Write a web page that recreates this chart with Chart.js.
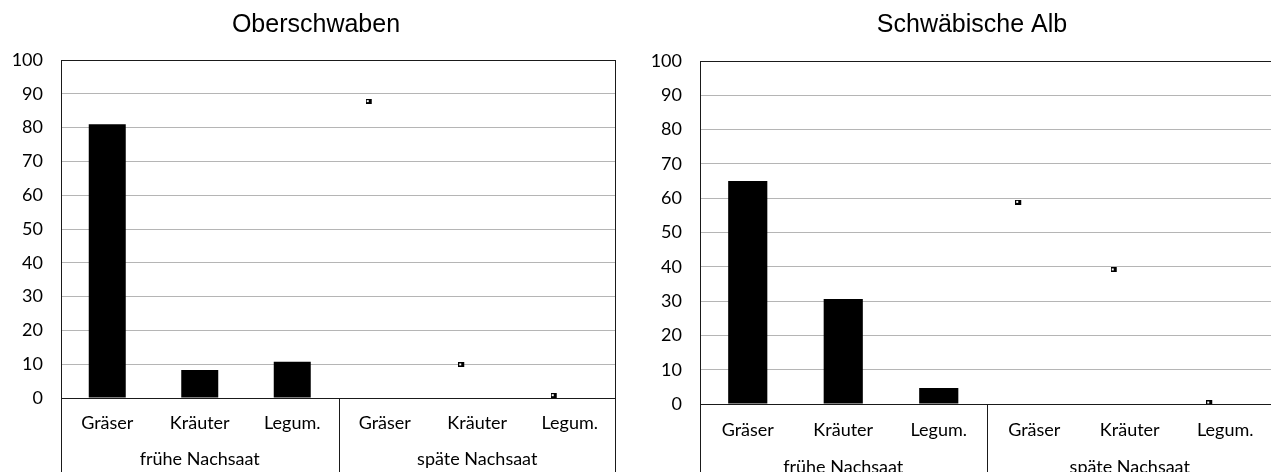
<!DOCTYPE html>
<html>
<head>
<meta charset="utf-8">
<script src="https://cdn.jsdelivr.net/npm/chart.js@4"></script>
<style>
  html, body { margin: 0; padding: 0; background: #fff; overflow: hidden; }
  #wrap { position: relative; width: 1271px; height: 472px; }
  canvas { position: absolute; top: 0; }
  #ober { left: 0; }
  #alb { left: 635px; }
</style>
</head>
<body>
<div id="wrap">
  <canvas id="ober" width="630" height="472"></canvas>
  <canvas id="alb" width="645" height="472"></canvas>
</div>
<script>
// Anteile (%) je Artengruppe
var categories = ['Gräser', 'Kräuter', 'Legum.'];
var groups = ['frühe Nachsaat', 'späte Nachsaat'];
var oberFrueh = [81, 8.3, 10.7];
var oberSpaet = [87.7, 9.8, 0.7];
var albFrueh = [65, 30.6, 4.7];
var albSpaet = [58.8, 39.1, 0.3];
var yMax = 100;
var yStep = 10;

var DARK = '#1a1a1a';
var GRID = '#b5b5b5';
var LABEL_FONT = 'Lato, "Open Sans", sans-serif';

// small square marker, drawn left of the category centre
function makeMarker() {
  var c = document.createElement('canvas');
  c.width = 38;
  c.height = 5;
  var g = c.getContext('2d');
  g.fillStyle = '#000';
  g.fillRect(0, 0, 6, 5);
  g.fillStyle = '#fff';
  g.fillRect(1, 1, 2, 2);
  return c;
}
var marker = makeMarker();

// outline of the plot, category box lines, group labels and title
var framePlugin = {
  id: 'frame',
  afterDatasetsDraw: function(chart, args, opts) {
    var ctx = chart.ctx;
    var a = chart.chartArea;
    var x = chart.scales.x;
    var h = chart.height;
    ctx.save();
    ctx.strokeStyle = DARK;
    ctx.lineWidth = 1;
    var sep = Math.round((x.getPixelForValue(2) + x.getPixelForValue(3)) / 2) + 0.5;
    var l = Math.round(a.left) + 0.5;
    var r = Math.round(a.right) - 0.5;
    ctx.beginPath();
    ctx.moveTo(l, a.top);
    ctx.lineTo(l, h);
    ctx.moveTo(r, a.top);
    ctx.lineTo(r, h);
    ctx.moveTo(sep, a.bottom);
    ctx.lineTo(sep, h);
    ctx.stroke();

    ctx.fillStyle = '#000';
    ctx.textAlign = 'center';
    ctx.textBaseline = 'middle';
    ctx.font = '18px ' + LABEL_FONT;
    ctx.fillText(groups[0], x.getPixelForValue(1), a.bottom + opts.groupOffset);
    ctx.fillText(groups[1], x.getPixelForValue(4), a.bottom + opts.groupOffset);

    ctx.font = '25px "Liberation Sans", Arial, sans-serif';
    ctx.fillText(opts.title, opts.titleX, 25);
    ctx.restore();
  }
};

function buildChart(id, frueh, spaet, title, lay) {
  var nulls = [null, null, null];
  new Chart(document.getElementById(id), {
    type: 'bar',
    data: {
      labels: categories.concat(categories),
      datasets: [
        {
          data: frueh.concat(nulls),
          backgroundColor: '#000',
          barPercentage: lay.barPct,
          categoryPercentage: 1
        },
        {
          type: 'line',
          data: nulls.concat(spaet),
          showLine: false,
          pointStyle: marker,
          pointRadius: 3,
          borderColor: '#000',
          backgroundColor: '#000'
        }
      ]
    },
    options: {
      responsive: false,
      animation: false,
      layout: { padding: { top: lay.top, right: lay.right, left: 0, bottom: 0 } },
      plugins: {
        legend: { display: false },
        tooltip: { enabled: false },
        frame: { title: title, titleX: lay.titleX, groupOffset: lay.groupOffset }
      },
      scales: {
        x: {
          grid: { display: false, drawTicks: false },
          border: { display: false },
          ticks: {
            color: '#000',
            padding: lay.tickPad,
            maxRotation: 0,
            autoSkip: false,
            font: { family: LABEL_FONT, size: 18 }
          },
          afterFit: function(s) { s.height = lay.xHeight; }
        },
        y: {
          min: 0,
          max: yMax,
          ticks: {
            stepSize: yStep,
            color: '#000',
            padding: 18,
            font: { family: LABEL_FONT, size: 18 }
          },
          grid: {
            drawTicks: false,
            color: function(c) {
              return (c.tick.value === 0 || c.tick.value === yMax) ? DARK : GRID;
            }
          },
          border: { display: true, color: DARK },
          afterFit: function(s) { s.width = lay.yWidth; }
        }
      }
    },
    plugins: [framePlugin]
  });
}

buildChart('ober', oberFrueh, oberSpaet, 'Oberschwaben', {
  top: 60, right: 14, yWidth: 61, xHeight: 74, barPct: 0.4,
  tickPad: 14, groupOffset: 61, titleX: 316
});
buildChart('alb', albFrueh, albSpaet, 'Schwäbische Alb', {
  top: 61, right: 7, yWidth: 65, xHeight: 68, barPct: 0.41,
  tickPad: 15, groupOffset: 63, titleX: 337
});
</script>
</body>
</html>
